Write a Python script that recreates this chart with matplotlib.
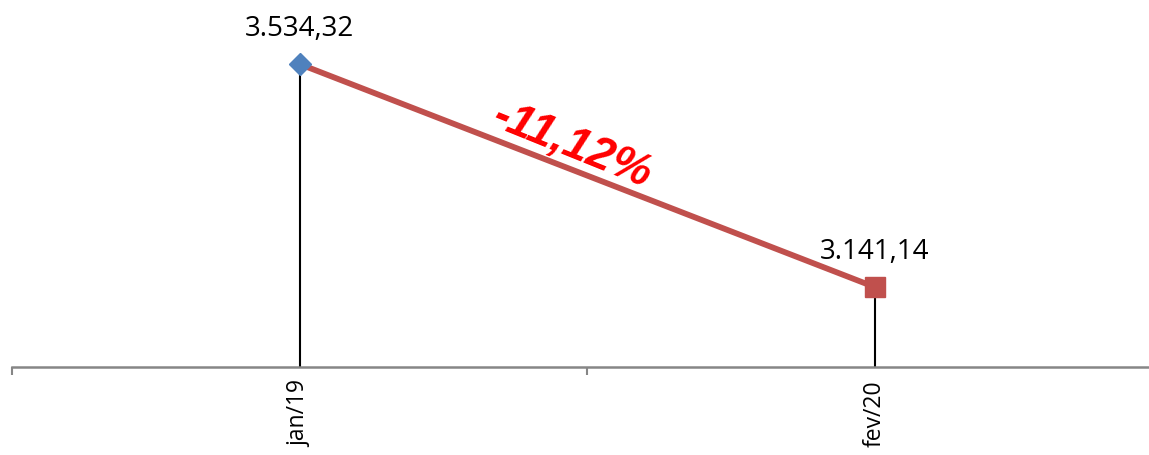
import numpy as np
import matplotlib.pyplot as plt

# Data
months = ["jan/19", "fev/20"]
values = np.array([3534.32, 3141.14])
value_labels = ["3.534,32", "3.141,14"]
change_label = "-11,12%"

x = np.arange(len(months))

fig = plt.figure(figsize=(11.49, 4.56), dpi=100)
ax = fig.add_axes([12 / 1149, 88 / 456, 1150 / 1149, 368 / 456])
ax.set_xlim(-0.5, 1.5)
ax.set_ylim(3000, 3649)

# drop lines to the axis
ax.vlines(x, 3000, values, color='black', lw=1.5, zorder=2)

# connecting line
ax.plot(x, values, color='#C0504D', lw=4.2, solid_capstyle='butt', zorder=3)
ax.plot(x[0], values[0], marker='D', ms=11, color='#4F81BD', mec='#4F81BD', zorder=4)
ax.plot(x[1], values[1], marker='s', ms=14, color='#C0504D', mec='#C0504D', zorder=4)

for xi, v, lab in zip(x, values, value_labels):
    ax.annotate(lab, (xi, v), xytext=(0, 16), textcoords='offset points',
                ha='center', va='bottom', fontsize=20, family='Open Sans')

ax.text(0.475, 3392, change_label, rotation=-22, rotation_mode='anchor',
        ha='center', va='center', color='red', fontsize=33,
        fontweight='bold', fontstyle='italic', family='Liberation Sans')

for s in ['top', 'right', 'left']:
    ax.spines[s].set_visible(False)
ax.spines['bottom'].set_color('#868686')
ax.spines['bottom'].set_linewidth(1.8)
ax.set_yticks([])

ax.set_xticks(x)
ax.set_xticklabels(months, rotation=90, fontsize=16.5, family='Open Sans')
ax.tick_params(axis='x', which='major', length=0, pad=9)
ax.set_xticks([-0.5, 0.5, 1.5], minor=True)
ax.tick_params(axis='x', which='minor', length=6, width=1.5, color='#868686')

fig.savefig('out.png', dpi=100)
